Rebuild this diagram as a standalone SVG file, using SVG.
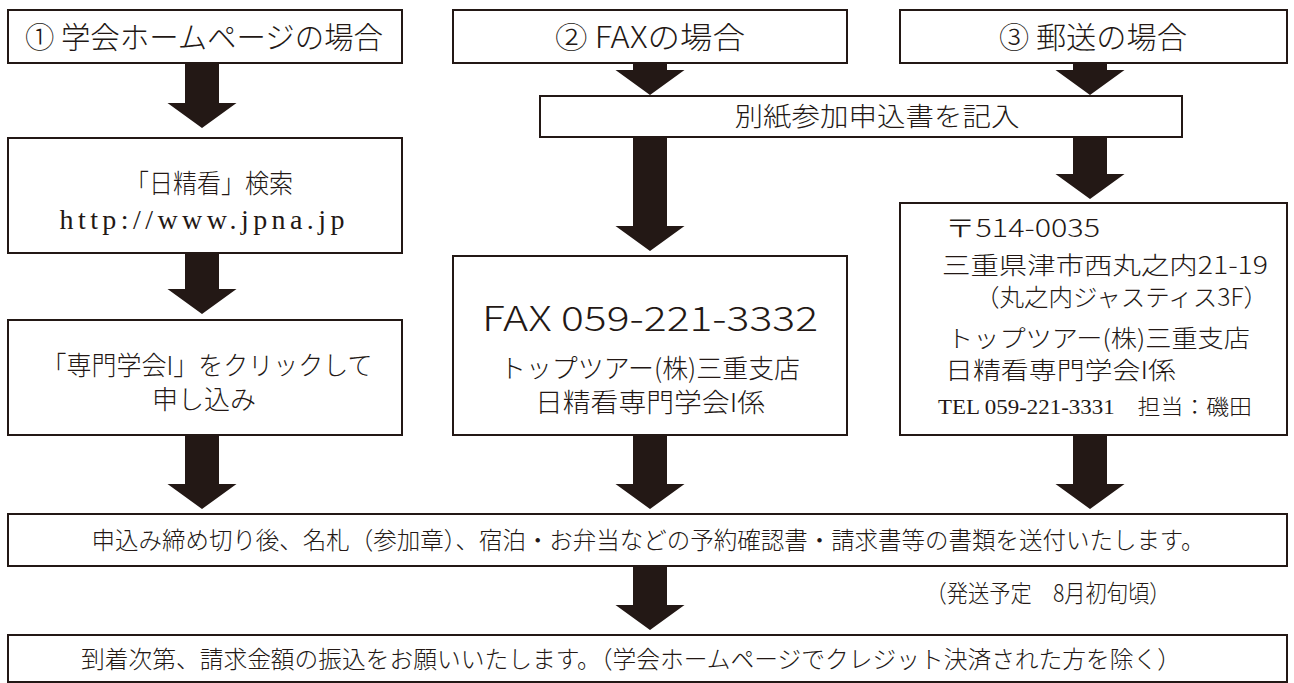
<svg xmlns="http://www.w3.org/2000/svg" width="1294" height="683" viewBox="0 0 1294 683">
<style>
.box{fill:#fff;stroke:#231815;stroke-width:2}
.arr{fill:#231815}
text{font-family:"Noto Sans CJK JP","Noto Sans",sans-serif;fill:#231815;text-anchor:middle;font-weight:300}
.t1{font-size:30px}
.t2{font-size:26px}
.t3{font-size:24px}
.l{text-anchor:start}
.serif{font-family:"Liberation Serif","Noto Sans CJK JP",serif;font-weight:400}
.cjk{font-family:"Noto Sans CJK JP",sans-serif;font-weight:300}
</style>
<rect width="1294" height="683" fill="#fff"/>
<g id="connectors">
<path class="arr" d="M185,63V103H167.5L202,128L236.5,103H219V63Z"/>
<path class="arr" d="M185,253V289H167.5L202,314L236.5,289H219V253Z"/>
<path class="arr" d="M633,63V70H615.5L650,95L684.5,70H667V63Z"/>
<path class="arr" d="M1073,63V70H1055.5L1090,95L1124.5,70H1107V63Z"/>
<path class="arr" d="M633,137V226H615.5L650,251L684.5,226H667V137Z"/>
<path class="arr" d="M1073,137V174H1055.5L1090,199L1124.5,174H1107V137Z"/>
<path class="arr" d="M185,435V484H167.5L202,509L236.5,484H219V435Z"/>
<path class="arr" d="M633,435V484H615.5L650,509L684.5,484H667V435Z"/>
<path class="arr" d="M1073,435V484H1055.5L1090,509L1124.5,484H1107V435Z"/>
<path class="arr" d="M633,566V605H615.5L650,630L684.5,605H667V566Z"/>
</g>
<g id="n1"><rect class="box" x="8" y="10" width="394" height="53"/><text class="t1" x="204" y="48" textLength="358" lengthAdjust="spacingAndGlyphs">① 学会ホームページの場合</text></g>
<g id="n2"><rect class="box" x="453" y="10" width="394" height="53"/><text class="t1" x="650" y="48" textLength="190" lengthAdjust="spacingAndGlyphs">② FAXの場合</text></g>
<g id="n3"><rect class="box" x="900" y="10" width="387" height="53"/><text class="t1" x="1093" y="48" textLength="188" lengthAdjust="spacingAndGlyphs">③ 郵送の場合</text></g>
<g id="n4"><rect class="box" x="540" y="96" width="642" height="41"/><text class="t2" x="877" y="126" textLength="285" lengthAdjust="spacingAndGlyphs">別紙参加申込書を記入</text></g>
<g id="n5"><rect class="box" x="8" y="138" width="394" height="115"/><text class="t2" x="209" y="193" textLength="168" lengthAdjust="spacingAndGlyphs">「日精看」検索</text><text class="serif" x="202" y="229" font-size="28" textLength="285" lengthAdjust="spacing">http://www.jpna.jp</text></g>
<g id="n6"><rect class="box" x="8" y="320" width="394" height="115"/><text class="t2" x="207" y="375" textLength="331" lengthAdjust="spacingAndGlyphs">「専門学会I」をクリックして</text><text class="t2" x="204" y="409">申し込み</text></g>
<g id="n7"><rect class="box" x="453" y="256" width="394" height="179"/><text x="650" y="331" font-size="34" textLength="336" lengthAdjust="spacingAndGlyphs">FAX 059-221-3332</text><text class="t2" x="650" y="378" textLength="300" lengthAdjust="spacingAndGlyphs">トップツアー(株)三重支店</text><text class="t2" x="650" y="412" textLength="230" lengthAdjust="spacingAndGlyphs">日精看専門学会I係</text></g>
<g id="n8"><rect class="box" x="900" y="203" width="387" height="232"/>
<text class="t3 l" x="945" y="237" textLength="155" lengthAdjust="spacingAndGlyphs">〒514-0035</text>
<text class="t3 l" x="942" y="274" textLength="326" lengthAdjust="spacingAndGlyphs">三重県津市西丸之内21-19</text>
<text class="t3 l" x="975" y="306" textLength="293" lengthAdjust="spacingAndGlyphs">（丸之内ジャスティス3F）</text>
<text class="t3 l" x="947" y="347" textLength="303" lengthAdjust="spacingAndGlyphs">トップツアー(株)三重支店</text>
<text class="t3 l" x="945" y="379" textLength="231" lengthAdjust="spacingAndGlyphs">日精看専門学会I係</text>
<text class="serif l" x="938" y="414" font-size="21" textLength="314" lengthAdjust="spacingAndGlyphs">TEL 059-221-3331　<tspan class="cjk">担当：磯田</tspan></text></g>
<g id="n9"><rect class="box" x="8" y="514" width="1279" height="52"/><text class="t3" x="648" y="549" textLength="1113" lengthAdjust="spacingAndGlyphs">申込み締め切り後、名札（参加章）、宿泊・お弁当などの予約確認書・請求書等の書類を送付いたします。</text></g>
<text class="t3" x="1048" y="602" textLength="245" lengthAdjust="spacingAndGlyphs">（発送予定　8月初旬頃）</text>
<g id="n10"><rect class="box" x="8" y="635" width="1279" height="47"/><text class="t3" x="631" y="668" textLength="1100" lengthAdjust="spacingAndGlyphs">到着次第、請求金額の振込をお願いいたします。（学会ホームページでクレジット決済された方を除く）</text></g>
</svg>
